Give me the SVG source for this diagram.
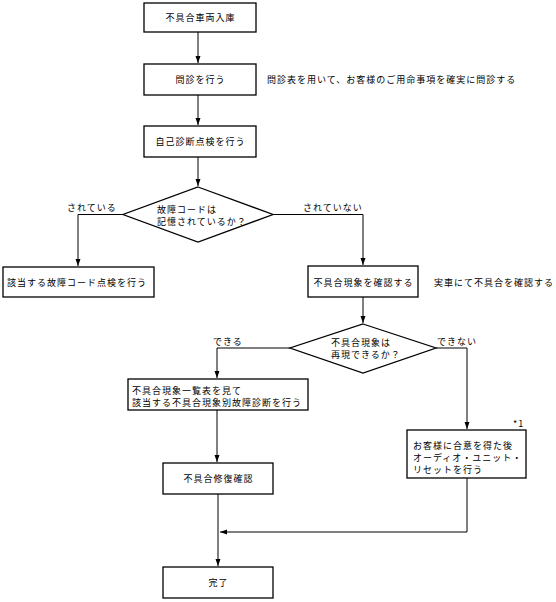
<svg xmlns="http://www.w3.org/2000/svg" width="556" height="602" viewBox="0 0 556 602">
<defs>
<marker id="arr" markerUnits="userSpaceOnUse" markerWidth="8" markerHeight="6" refX="7" refY="3" orient="auto">
<path d="M0,0.5 L7,3 L0,5.5 Z" fill="#000"/>
</marker>
<style>
.box{fill:#fff;stroke:#000;stroke-width:1.3}
.t{font-family:"Noto Sans CJK JP","Noto Sans",sans-serif;font-size:9px;letter-spacing:1px;fill:#000}
.m{text-anchor:middle}
.c{fill:none;stroke:#000;stroke-width:1}
</style>
</defs>
<rect width="556" height="602" fill="#fff"/>
<g id="connectors">
<path class="c" d="M198,32 V63" marker-end="url(#arr)"/>
<path class="c" d="M198,95 V125" marker-end="url(#arr)"/>
<path class="c" d="M198,157 V186" marker-end="url(#arr)"/>
<path class="c" d="M123,214.5 H78 V266" marker-end="url(#arr)"/>
<path class="c" d="M273,214.5 H363 V265" marker-end="url(#arr)"/>
<path class="c" d="M363,297 V323" marker-end="url(#arr)"/>
<path class="c" d="M290,348 H217 V378" marker-end="url(#arr)"/>
<path class="c" d="M436,348 H467 V429" marker-end="url(#arr)"/>
<path class="c" d="M217,410 V462" marker-end="url(#arr)"/>
<path class="c" d="M218,494 V566" marker-end="url(#arr)"/>
<path class="c" d="M467,478 V532 H220" marker-end="url(#arr)"/>
<text class="t" x="67" y="210.5">されている</text>
<text class="t" x="303" y="210.5">されていない</text>
<text class="t" x="213" y="345">できる</text>
<text class="t" x="437" y="345">できない</text>
</g>
<g id="n1">
<rect class="box" x="144" y="3" width="112" height="29"/>
<text class="t m" x="200.5" y="21">不具合車両入庫</text>
</g>
<g id="n2">
<rect class="box" x="144" y="64" width="112" height="31"/>
<text class="t m" x="200.5" y="83">問診を行う</text>
</g>
<text class="t" x="267" y="83">問診表を用いて、お客様のご用命事項を確実に問診する</text>
<g id="n3">
<rect class="box" x="144" y="126" width="112" height="31"/>
<text class="t m" x="200.5" y="145">自己診断点検を行う</text>
</g>
<g id="d1">
<polygon class="box" points="198,187 273,214.5 198,242 123,214.5"/>
<text class="t" x="157" y="212.5">故障コードは</text>
<text class="t" x="157" y="224.5">記憶されているか？</text>
</g>
<g id="n4">
<rect class="box" x="3" y="267" width="151" height="30"/>
<text class="t" x="7" y="285.5">該当する故障コード点検を行う</text>
</g>
<g id="n5">
<rect class="box" x="308" y="266" width="110" height="31"/>
<text class="t m" x="363.5" y="285.5">不具合現象を確認する</text>
</g>
<text class="t" x="434" y="286">実車にて不具合を確認する</text>
<g id="d2">
<polygon class="box" points="363,324 436,348 363,373 290,348"/>
<text class="t" x="331" y="345.5">不具合現象は</text>
<text class="t" x="331" y="357.5">再現できるか？</text>
</g>
<g id="n6">
<rect class="box" x="128" y="379" width="180" height="31"/>
<text class="t" x="132" y="393.5">不具合現象一覧表を見て</text>
<text class="t" x="132" y="405.5">該当する不具合現象別故障診断を行う</text>
</g>
<g id="n7">
<rect class="box" x="163" y="463" width="110" height="31"/>
<text class="t m" x="218.5" y="482">不具合修復確認</text>
</g>
<g id="n8">
<text class="t" x="513" y="427">*1</text>
<rect class="box" x="407" y="430" width="119" height="48"/>
<text class="t" x="413" y="449">お客様に合意を得た後</text>
<text class="t" x="413" y="461">オーディオ・ユニット・</text>
<text class="t" x="413" y="473">リセットを行う</text>
</g>
<g id="n9">
<rect class="box" x="163" y="567" width="110" height="31"/>
<text class="t m" x="218.5" y="586">完了</text>
</g>
</svg>
